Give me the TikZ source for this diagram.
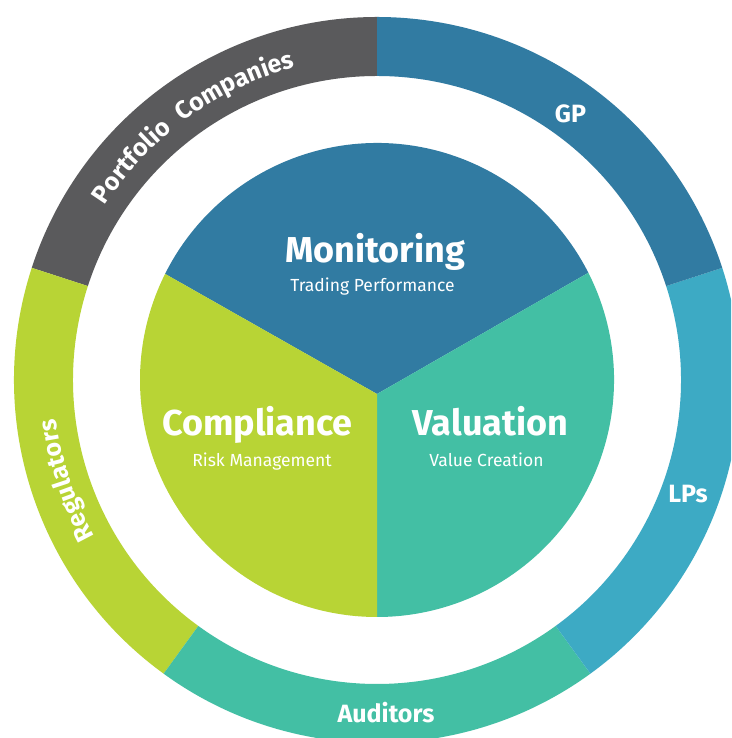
\documentclass[tikz,border=0pt]{standalone}
\usepackage{fontspec}
\setmainfont{Fira Sans}
\usetikzlibrary{decorations.text}
\definecolor{cgray}{HTML}{5A5A5C}
\definecolor{cblue}{HTML}{317BA2}
\definecolor{clight}{HTML}{3DAAC4}
\definecolor{cteal}{HTML}{43BFA4}
\definecolor{clime}{HTML}{B8D435}
\begin{document}
\begin{tikzpicture}[x=1pt,y=1pt,
  ringlabel/.style={text=white,font=\fontsize{25}{25}\selectfont\bfseries,anchor=base,inner sep=0pt},
  titlelabel/.style={text=white,font=\fontsize{36}{36}\selectfont\bfseries,anchor=base,inner sep=0pt},
  sublabel/.style={text=white,font=\fontsize{17.5}{18}\selectfont,anchor=base,inner sep=0pt}]
\useasboundingbox (0,0) rectangle (731,738);
\clip (0,0) rectangle (731,738);
\fill[white] (0,0) rectangle (731,738);
\coordinate (C) at (377,358);
\coordinate (V) at (377,344);
% outer ring
\def\ringseg#1#2#3{\fill[#3] ([shift={(C)}]#1:363) arc[start angle=#1,end angle=#2,radius=363] -- ([shift={(C)}]#2:304) arc[start angle=#2,end angle=#1,radius=304] -- cycle;}
\ringseg{90}{162}{cgray}
\ringseg{162}{234}{clime}
\ringseg{234}{306}{cteal}
\ringseg{306}{378}{clight}
\ringseg{18}{90}{cblue}
% inner pie
\fill[cblue] (V) -- ([shift={(C)}]153.4:237) arc[start angle=153.4,end angle=26.9,radius=237] -- cycle;
\fill[cteal] (V) -- ([shift={(C)}]26.9:237) arc[start angle=26.9,end angle=-90,radius=237] -- cycle;
\fill[clime] (V) -- ([shift={(C)}]270:237) arc[start angle=270,end angle=153.4,radius=237] -- cycle;
% inner labels
\node[titlelabel] (mon) at (375,475) {Monitoring};
\node[sublabel] (mons) at (372.5,446) {Trading Performance};
\node[titlelabel] (com) at (257.5,302) {Compliance};
\node[sublabel] (coms) at (262,271) {Risk Management};
\node[titlelabel] (val) at (490.5,302) {Valuation};
\node[sublabel] (vals) at (486.5,271) {Value Creation};
% ring labels
\node[ringlabel] (gp) at (570.5,615) {GP};
\node[ringlabel] (lps) at (688,235) {LPs};
\node[ringlabel] (aud) at (386,16) {Auditors};
\path[postaction={decorate,decoration={text along path,text align=center,
  text={|\color{white}\fontsize{25}{25}\selectfont\bfseries|Portfolio{\hspace{7pt}} Companies}}}]
  ([shift={(C)}]162:323) arc[start angle=162,end angle=90,radius=323];
\path[postaction={decorate,decoration={text along path,text align=center,
  text={|\color{white}\fontsize{25}{25}\selectfont\bfseries|Regulators}}}]
  ([shift={(C)}]234:323) arc[start angle=234,end angle=162,radius=323];
\end{tikzpicture}
\end{document}
